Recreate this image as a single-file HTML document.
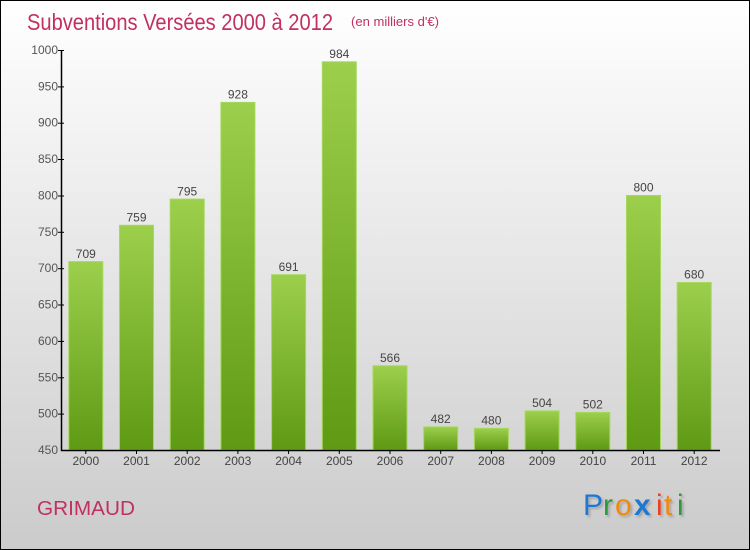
<!DOCTYPE html>
<html><head><meta charset="utf-8"><style>
html,body{margin:0;padding:0;width:750px;height:550px;overflow:hidden;}
svg{display:block;}
text{font-family:"Liberation Sans",sans-serif;}
</style></head><body>
<svg width="750" height="550" viewBox="0 0 750 550" xmlns="http://www.w3.org/2000/svg">
<defs>
<linearGradient id="bg" x1="0" y1="0" x2="0" y2="1">
<stop offset="0" stop-color="#ffffff"/><stop offset="1" stop-color="#cbcbcb"/>
</linearGradient>
<linearGradient id="bar" x1="0" y1="0" x2="0" y2="1">
<stop offset="0" stop-color="#9ccf4c"/><stop offset="1" stop-color="#5f9a14"/>
</linearGradient>
<filter id="sh" x="-10%" y="-10%" width="130%" height="140%"><feDropShadow dx="2" dy="2" stdDeviation="1" flood-color="#888" flood-opacity="0.6"/></filter>
</defs>
<rect x="0.5" y="0.5" width="749" height="549" fill="url(#bg)" stroke="#000" stroke-width="1"/>
<text x="27" y="30" font-size="23" fill="#c2305f" textLength="306" lengthAdjust="spacingAndGlyphs">Subventions Versées 2000 à 2012</text>
<text x="351" y="26" font-size="13" fill="#c2305f" textLength="88" lengthAdjust="spacingAndGlyphs">(en milliers d'€)</text>
<g font-size="12" fill="#555" text-anchor="end">
<text x="58" y="54">1000</text>
<text x="58" y="90.4">950</text>
<text x="58" y="126.7">900</text>
<text x="58" y="163">850</text>
<text x="58" y="199.5">800</text>
<text x="58" y="235.8">750</text>
<text x="58" y="272.2">700</text>
<text x="58" y="308.5">650</text>
<text x="58" y="344.9">600</text>
<text x="58" y="381.3">550</text>
<text x="58" y="417.6">500</text>
<text x="58" y="454">450</text>
</g>
<g stroke="#000" stroke-width="1">
<line x1="58" y1="50.5" x2="64" y2="50.5"/>
<line x1="58" y1="86.9" x2="64" y2="86.9"/>
<line x1="58" y1="123.2" x2="64" y2="123.2"/>
<line x1="58" y1="159.5" x2="64" y2="159.5"/>
<line x1="58" y1="196" x2="64" y2="196"/>
<line x1="58" y1="232.3" x2="64" y2="232.3"/>
<line x1="58" y1="268.7" x2="64" y2="268.7"/>
<line x1="58" y1="305" x2="64" y2="305"/>
<line x1="58" y1="341.4" x2="64" y2="341.4"/>
<line x1="58" y1="377.8" x2="64" y2="377.8"/>
<line x1="58" y1="414.1" x2="64" y2="414.1"/>
</g>
<g fill="url(#bar)" stroke="#a6d85c" stroke-width="1">
<rect x="68.8" y="261.6" width="34" height="188.4"/>
<rect x="119.5" y="225.3" width="34" height="224.7"/>
<rect x="170.2" y="199.1" width="34" height="250.9"/>
<rect x="220.9" y="102.4" width="34" height="347.6"/>
<rect x="271.6" y="274.7" width="34" height="175.3"/>
<rect x="322.3" y="61.8" width="34" height="388.2"/>
<rect x="373" y="365.8" width="34" height="84.2"/>
<rect x="423.7" y="426.9" width="34" height="23.1"/>
<rect x="474.4" y="428.4" width="34" height="21.6"/>
<rect x="525.1" y="410.9" width="34" height="39.1"/>
<rect x="575.8" y="412.4" width="34" height="37.6"/>
<rect x="626.5" y="195.5" width="34" height="254.5"/>
<rect x="677.2" y="282.5" width="34" height="167.5"/>
</g>
<g font-size="12" fill="#444" text-anchor="middle">
<text x="85.8" y="258">709</text>
<text x="136.5" y="221.5">759</text>
<text x="187.2" y="195.5">795</text>
<text x="237.9" y="98.5">928</text>
<text x="288.6" y="271">691</text>
<text x="339.3" y="58">984</text>
<text x="390" y="362">566</text>
<text x="440.7" y="423">482</text>
<text x="491.4" y="424.5">480</text>
<text x="542.1" y="407">504</text>
<text x="592.8" y="408.5">502</text>
<text x="643.5" y="191.5">800</text>
<text x="694.2" y="278.5">680</text>
</g>
<line x1="61.5" y1="50" x2="61.5" y2="451" stroke="#000" stroke-width="1.5"/>
<line x1="61" y1="450.5" x2="720" y2="450.5" stroke="#000" stroke-width="1.5"/>
<g stroke="#000" stroke-width="1">
<line x1="85.8" y1="450" x2="85.8" y2="454"/>
<line x1="136.5" y1="450" x2="136.5" y2="454"/>
<line x1="187.2" y1="450" x2="187.2" y2="454"/>
<line x1="237.9" y1="450" x2="237.9" y2="454"/>
<line x1="288.6" y1="450" x2="288.6" y2="454"/>
<line x1="339.3" y1="450" x2="339.3" y2="454"/>
<line x1="390" y1="450" x2="390" y2="454"/>
<line x1="440.7" y1="450" x2="440.7" y2="454"/>
<line x1="491.4" y1="450" x2="491.4" y2="454"/>
<line x1="542.1" y1="450" x2="542.1" y2="454"/>
<line x1="592.8" y1="450" x2="592.8" y2="454"/>
<line x1="643.5" y1="450" x2="643.5" y2="454"/>
<line x1="694.2" y1="450" x2="694.2" y2="454"/>
</g>
<g font-size="12" fill="#444" text-anchor="middle">
<text x="85.8" y="465">2000</text>
<text x="136.5" y="465">2001</text>
<text x="187.2" y="465">2002</text>
<text x="237.9" y="465">2003</text>
<text x="288.6" y="465">2004</text>
<text x="339.3" y="465">2005</text>
<text x="390" y="465">2006</text>
<text x="440.7" y="465">2007</text>
<text x="491.4" y="465">2008</text>
<text x="542.1" y="465">2009</text>
<text x="592.8" y="465">2010</text>
<text x="643.5" y="465">2011</text>
<text x="694.2" y="465">2012</text>
</g>
<text x="37" y="515" font-size="20" fill="#c2305f" textLength="98" lengthAdjust="spacingAndGlyphs">GRIMAUD</text>
<g filter="url(#sh)" font-size="30" font-family="Liberation Sans, sans-serif">
<text x="583" y="515" fill="#1a78d0">P</text>
<text x="603" y="515" fill="#2a9a3a">r</text>
<text x="615" y="515" fill="#f08a10">o</text>
<text x="634" y="515" fill="#1a78d0" font-weight="bold">x</text>
<text x="656" y="515" fill="#e8401a">i</text>
<text x="664" y="515" fill="#f08a10">t</text>
<text x="677" y="515" fill="#2a9a3a">i</text>
</g>
</svg>
</body></html>
